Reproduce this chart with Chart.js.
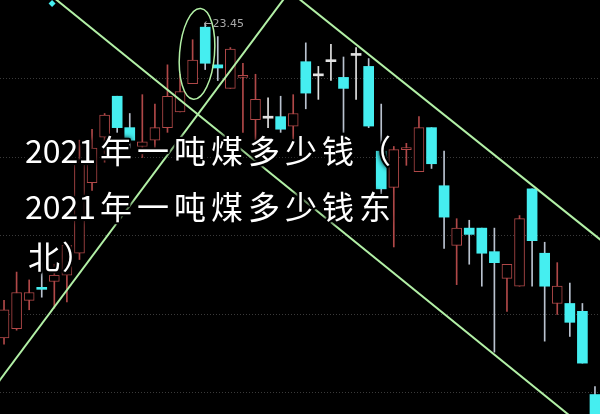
<!DOCTYPE html>
<html>
<head>
<meta charset="utf-8">
<script src="https://cdn.jsdelivr.net/npm/chart.js@4/dist/chart.umd.min.js"></script>
<style>
  html, body { margin: 0; padding: 0; background: #000; }
  #wrap { position: relative; width: 600px; height: 414px; }
</style>
</head>
<body>
<div id="wrap"><canvas id="kChart"></canvas></div>
<script>
// daily candles
const opens  = [21.45, 21.51, 21.69, 21.77, 21.81, 21.85, 21.99, 22.44, 22.73, 22.99, 22.79, 22.67,
                22.71, 22.79, 22.89, 23.07, 23.43, 23.19, 23.04, 23.11, 22.84, 22.85, 22.86, 22.80,
                23.21, 23.12, 23.21, 23.11, 23.25, 23.18, 22.64, 22.41, 22.65, 22.51, 22.79, 22.42,
                22.04, 22.15, 22.15, 22.00, 21.83, 21.78, 22.40, 21.99, 21.67, 21.67, 21.62, 21.09];
const closes = [21.63, 21.74, 21.74, 21.76, 21.85, 22.04, 22.57, 22.66, 22.87, 22.79, 22.71, 22.70,
                22.79, 22.99, 23.02, 23.22, 23.20, 23.17, 23.29, 23.12, 22.97, 22.85, 22.78, 22.88,
                23.01, 23.12, 23.21, 23.04, 23.25, 22.80, 22.40, 22.65, 22.66, 22.79, 22.56, 22.22,
                22.15, 22.11, 21.99, 21.93, 21.92, 22.21, 22.07, 21.78, 21.78, 21.55, 21.29, 20.90];
const highs  = [21.69, 21.87, 21.82, 21.93, 21.92, 22.06, 22.71, 22.78, 22.88, 22.99, 22.88, 23.00,
                22.94, 23.19, 23.13, 23.35, 23.45, 23.37, 23.30, 23.20, 23.13, 22.98, 22.99, 23.00,
                23.33, 23.18, 23.32, 23.24, 23.30, 23.23, 22.94, 22.67, 22.69, 22.86, 22.79, 22.64,
                22.21, 22.20, 22.15, 22.15, 21.92, 22.23, 22.40, 22.06, 21.93, 21.80, 21.67, 21.14];
const lows   = [21.41, 21.50, 21.63, 21.71, 21.64, 21.68, 21.95, 22.39, 22.57, 22.76, 22.66, 22.60,
                22.66, 22.76, 22.89, 23.07, 23.16, 23.09, 23.04, 22.76, 22.71, 22.79, 22.76, 22.71,
                22.91, 22.97, 23.09, 22.76, 22.97, 22.79, 22.33, 22.03, 22.55, 22.51, 22.53, 22.02,
                21.79, 21.92, 21.78, 21.36, 21.62, 21.78, 21.78, 21.43, 21.60, 21.46, 21.29, 20.88];

const days = Array.from({ length: opens.length }, (_, i) => String(i + 1));

// price grid levels and visible window
const gridLevels = [21.1, 21.6, 22.1, 22.6, 23.1];
const yMin = 20.966;
const yMax = 23.603;
const xMin = -0.32;
const xMax = 47.40;

// hand-drawn trend lines, [candle index, price] end points
const trendA = [[3, 23.68], [46, 20.89]];
const trendB = [[-1, 21.11], [23, 23.69]];
const trendC = [[23, 23.64], [48, 22.04]];

// circled top and the little marker at top left
const circleTop = { index: 15.35, price: 23.26, spanIdx: 1.39, spanPrice: 0.29 };
const marker = [{ x: 3.82, y: 23.58 }];

const RED = '#b04848';
const CYAN = '#45eef0';
const WICK_DOWN = '#b9c2cf';
const FLAT = '#e2e2e2';
const TREND = '#b2f0a6';

const kind = opens.map((o, i) => closes[i] > o ? 'up' : (closes[i] < o ? 'down' : 'flat'));

const overlay = {
  id: 'overlay',
  afterDatasetsDraw(chart) {
    const ctx = chart.ctx;
    const xs = chart.scales.x, ys = chart.scales.y;

    // ellipse round the top
    const cx = xs.getPixelForValue(circleTop.index);
    const cy = ys.getPixelForValue(circleTop.price);
    const rx = xs.getPixelForValue(circleTop.index + circleTop.spanIdx) - cx;
    const ry = cy - ys.getPixelForValue(circleTop.price + circleTop.spanPrice);
    ctx.save();
    ctx.strokeStyle = TREND;
    ctx.lineWidth = 1.5;
    ctx.beginPath();
    ctx.ellipse(cx, cy, rx, ry, 0.08, 0, Math.PI * 2);
    ctx.stroke();

    // high label
    const hi = Math.max(...highs);
    const hiIdx = highs.indexOf(hi);
    ctx.fillStyle = '#a9a9a9';
    ctx.font = '11px "DejaVu Sans"';
    ctx.textBaseline = 'middle';
    ctx.fillText('\u2190' + hi.toFixed(2), xs.getPixelForValue(hiIdx) - 2, ys.getPixelForValue(hi));
    ctx.restore();
  },
  afterDraw(chart) {
    const ctx = chart.ctx;
    ctx.save();
    ctx.font = '32px "Noto Sans CJK SC"';
    ctx.textBaseline = 'alphabetic';
    ctx.lineJoin = 'round';
    const put = (txt, x, y, sp) => {
      ctx.letterSpacing = sp + 'px';
      ctx.shadowColor = 'rgba(0,0,0,0.9)';
      ctx.shadowBlur = 5;
      ctx.strokeStyle = '#000';
      ctx.lineWidth = 4;
      ctx.strokeText(txt, x, y);
      ctx.shadowBlur = 0;
      ctx.fillStyle = '#fff';
      ctx.fillText(txt, x, y);
    };
    put('2021', 25, 163, 0);
    put('年一吨煤多少钱（', 100, 163, 5);
    put('2021', 25, 219, 0);
    put('年一吨煤多少钱东', 100, 219, 5);
    put('北）', 28, 269, 2);
    ctx.restore();
  }
};

const lineSet = pts => ({
  type: 'line',
  data: pts.map(p => ({ x: p[0], y: p[1] })),
  borderColor: TREND, borderWidth: 2, pointRadius: 0, order: 0
});

new Chart(document.getElementById('kChart'), {
  type: 'bar',
  data: {
    labels: days,
    datasets: [
      lineSet(trendA),
      lineSet(trendB),
      lineSet(trendC),
      {
        type: 'line',
        data: marker,
        showLine: false,
        pointStyle: 'rectRot', pointRadius: 3.5,
        pointBackgroundColor: CYAN, pointBorderWidth: 0, order: 0
      },
      {
        // bodies
        data: opens.map((o, i) => ({ x: i, y: [o, closes[i]] })),
        grouped: false,
        barThickness: 10,
        minBarLength: 2,
        borderSkipped: false,
        backgroundColor: kind.map(k => k === 'up' ? '#000' : (k === 'down' ? CYAN : FLAT)),
        borderColor: kind.map(k => k === 'up' ? RED : 'rgba(0,0,0,0)'),
        borderWidth: kind.map(k => k === 'up' ? 1 : 0),
        order: 1
      },
      {
        // wicks
        data: lows.map((l, i) => ({ x: i, y: [l, highs[i]] })),
        grouped: false,
        barThickness: 1,
        borderSkipped: false,
        backgroundColor: kind.map(k => k === 'up' ? RED : (k === 'down' ? WICK_DOWN : FLAT)),
        borderWidth: 0,
        order: 2
      }
    ]
  },
  options: {
    responsive: true,
    maintainAspectRatio: false,
    animation: false,
    layout: { padding: 0, autoPadding: false },
    plugins: { legend: { display: false }, tooltip: { enabled: false } },
    scales: {
      x: {
        type: 'linear', display: false, offset: false,
        grid: { offset: false },
        min: xMin, max: xMax
      },
      y: {
        min: yMin,
        max: yMax,
        afterBuildTicks: scale => { scale.ticks = gridLevels.map(v => ({ value: v })); },
        ticks: { display: false },
        grid: { color: '#3a3a3a', drawTicks: false, lineWidth: 1 },
        border: { display: false, dash: [1, 2] }
      }
    }
  },
  plugins: [overlay]
});
</script>
</body>
</html>
